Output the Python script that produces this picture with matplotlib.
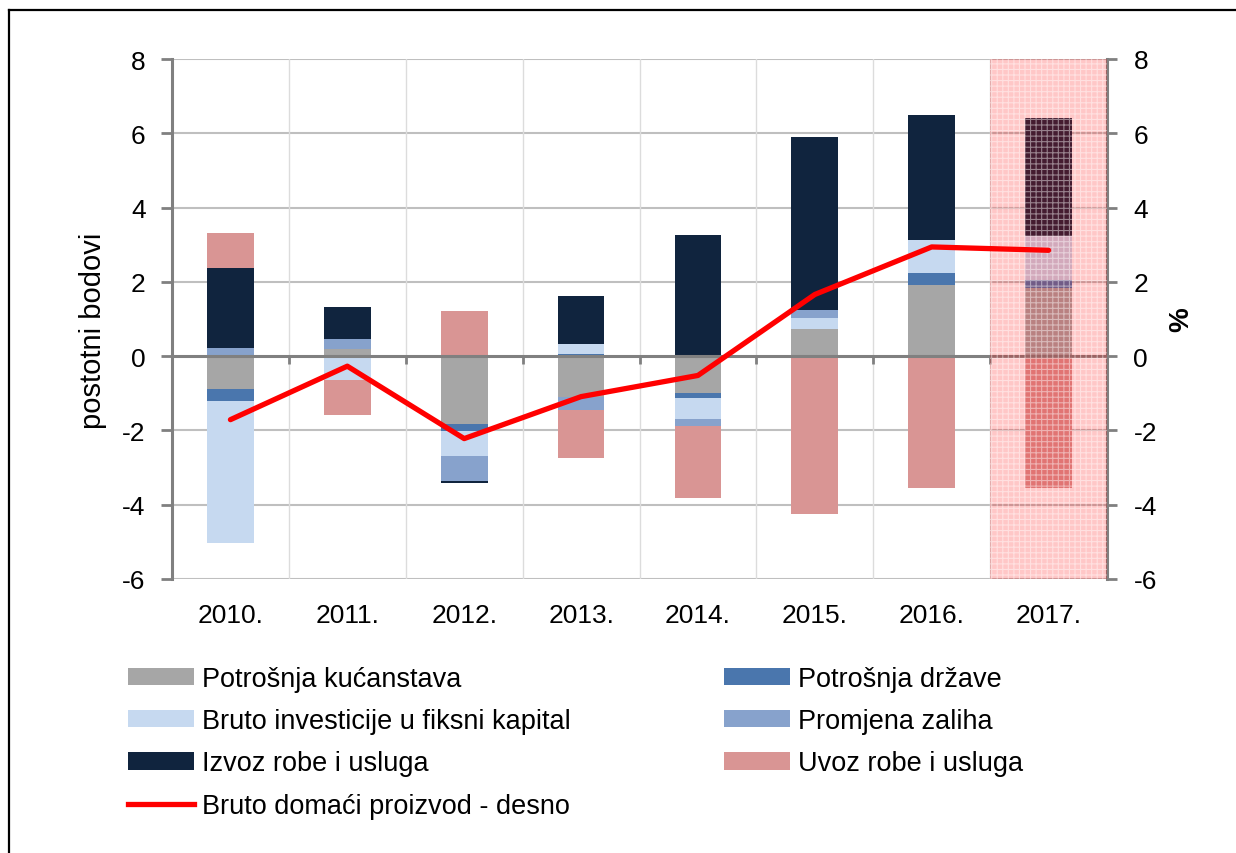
import matplotlib
matplotlib.use("Agg")
import numpy as np
import matplotlib.pyplot as plt
from matplotlib.lines import Line2D
from matplotlib.patches import Patch

plt.rcParams["font.family"] = ["Liberation Sans", "DejaVu Sans"]
plt.rcParams["axes.unicode_minus"] = False
plt.rcParams["hatch.linewidth"] = 0.8

years = ["2010.", "2011.", "2012.", "2013.", "2014.", "2015.", "2016.", "2017."]

kucanstva = [-0.88, 0.18, -1.84, -1.11, -0.99, 0.72, 1.91, 1.84]
drzava = [-0.32, 0.00, -0.18, 0.05, -0.15, 0.00, 0.34, 0.21]
investicije = [-3.83, -0.63, -0.68, 0.28, -0.55, 0.31, 0.89, 1.19]
zalihe = [0.23, 0.27, -0.67, -0.34, -0.18, 0.20, -0.03, 0.00]
izvoz = [2.14, 0.86, -0.04, 1.30, 3.27, 4.66, 3.36, 3.16]
uvoz = [0.95, -0.95, 1.22, -1.28, -1.94, -4.25, -3.52, -3.55]
bdp = [-1.71, -0.27, -2.22, -1.09, -0.52, 1.66, 2.94, 2.85]

series = [
    ("Potrošnja kućanstava", kucanstva, "#a6a6a6"),
    ("Potrošnja države", drzava, "#4a76ad"),
    ("Bruto investicije u fiksni kapital", investicije, "#c6d9f0"),
    ("Promjena zaliha", zalihe, "#87a2cc"),
    ("Izvoz robe i usluga", izvoz, "#10243e"),
    ("Uvoz robe i usluga", uvoz, "#d99594"),
]

FS = 19
GRID = "#bfbfbf"
AXIS = "#808080"

fig = plt.figure(figsize=(12.36, 8.54), dpi=100)
ax = fig.add_axes([172 / 1236, 1 - 580 / 854, 935 / 1236, 520 / 854])

x = np.arange(len(years))
pos_base = np.zeros(len(years))
neg_base = np.zeros(len(years))
for name, vals, color in series:
    v = np.array(vals, dtype=float)
    bottom = np.where(v >= 0, pos_base, neg_base)
    ax.bar(x, v, width=0.4, bottom=bottom, color=color, zorder=3, linewidth=0)
    pos_base = pos_base + np.where(v >= 0, v, 0)
    neg_base = neg_base + np.where(v < 0, v, 0)

# shaded forecast year
ax.axvspan(6.5, 7.5, color=(1, 0, 0), alpha=0.22, linewidth=0, zorder=5)
ax.axvspan(6.5, 7.5, facecolor="none", edgecolor=(1, 1, 1, 0.45), hatch="+++",
           linewidth=0, zorder=5)

ax.set_xlim(-0.5, 7.5)
ax.set_ylim(-6, 8)
ax.set_yticks(np.arange(-6, 9, 2))

for yv in np.arange(-6, 9, 2):
    if yv != 0:
        ax.axhline(yv, color=GRID, lw=1.5, zorder=1)
for xv in np.arange(0.5, 7, 1):
    ax.axvline(xv, color="#dcdcdc", lw=1.0, zorder=1)

ax.spines["top"].set_visible(False)
ax.spines["bottom"].set_position(("data", 0))
ax.spines["bottom"].set_color(AXIS)
ax.spines["bottom"].set_linewidth(2.2)
ax.spines["bottom"].set_zorder(4)
ax.spines["left"].set_color(AXIS)
ax.spines["left"].set_linewidth(2.2)
ax.spines["right"].set_color(AXIS)
ax.spines["right"].set_linewidth(2.2)

ax.set_xticks(np.arange(0.5, 7, 1))
ax.set_xticklabels([])
ax.tick_params(axis="x", direction="out", length=6, width=2, color=AXIS)
ax.tick_params(axis="y", direction="out", length=8, width=2, color=AXIS,
               labelsize=FS, pad=11)
ax.set_ylabel("postotni bodovi", fontsize=21)
ax.yaxis.set_label_coords(-0.0695, 0.48)

sec = ax.secondary_xaxis("bottom")
sec.set_xticks(x)
sec.set_xticklabels(years)
sec.tick_params(length=0, pad=17, labelsize=FS)
sec.spines["bottom"].set_visible(False)

ax2 = ax.twinx()
ax2.set_ylim(-6, 8)
ax2.set_yticks(np.arange(-6, 9, 2))
ax2.tick_params(axis="y", direction="out", length=7, width=2, color=AXIS,
                labelsize=FS, pad=12)
for s in ("top", "bottom", "left", "right"):
    ax2.spines[s].set_visible(False)
ax2.plot(x, bdp, color="#ff0000", lw=3.8, solid_capstyle="round", zorder=6)
ax2.set_ylabel("%", fontsize=20, fontweight="bold")
ax2.yaxis.set_label_coords(1.065, 0.5)

handles = [Patch(facecolor=c, linewidth=0) for _, _, c in series]
labels = [n for n, _, _ in series]
line_h = Line2D([], [], color="#ff0000", lw=3.8)
order_h = [handles[0], handles[2], handles[4], line_h, handles[1], handles[3], handles[5]]
order_l = [labels[0], labels[2], labels[4], "Bruto domaći proizvod - desno",
           labels[1], labels[3], labels[5]]
fig.legend(order_h, order_l, loc="upper left", bbox_to_anchor=(128 / 1236, 1 - 667 / 854),
           ncol=2, frameon=False, fontsize=19.5, handlelength=2.45, handleheight=0.6,
           handletextpad=0.28, labelspacing=0.6, columnspacing=5.65,
           borderpad=0, borderaxespad=0)

# outer frame (left and top edges visible)
fig.add_artist(Line2D([9 / 1236, 9 / 1236], [0, 1 - 11 / 854], color="black", lw=1.6))
fig.add_artist(Line2D([9 / 1236, 1], [1 - 11 / 854, 1 - 11 / 854], color="black", lw=1.6))

fig.savefig("out.png", dpi=100)
